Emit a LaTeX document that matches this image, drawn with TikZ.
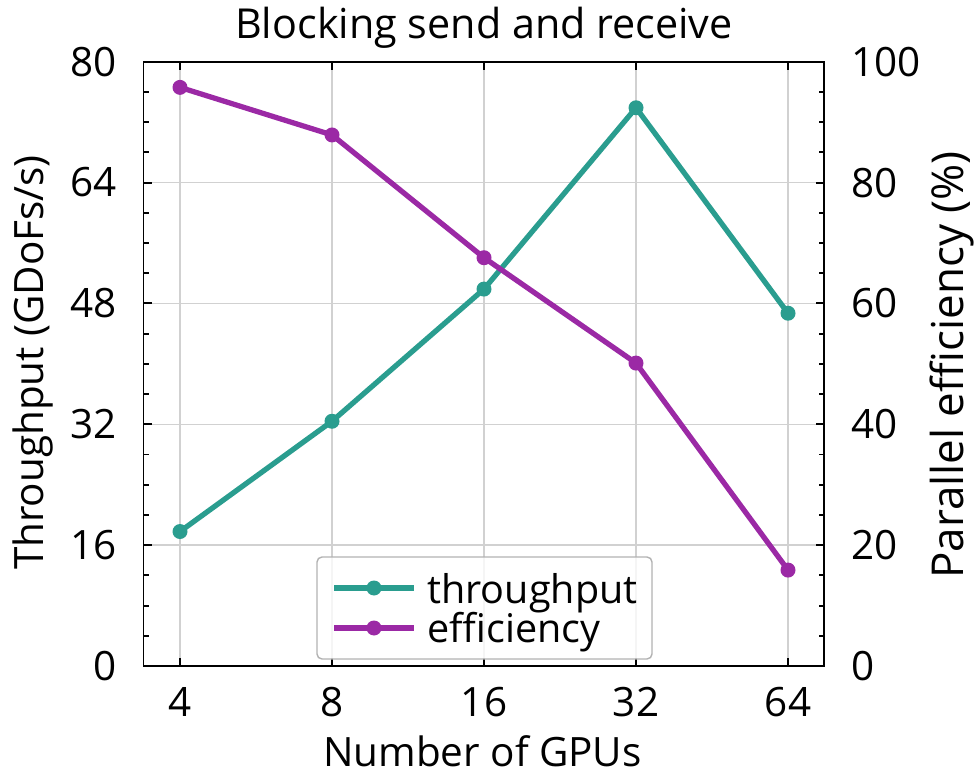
\documentclass[tikz,border=0pt]{standalone}
\usepackage{fontspec}
\setmainfont{Open Sans}
\usetikzlibrary{positioning, calc}

\definecolor{tputcol}{RGB}{42,157,143}
\definecolor{effcol}{RGB}{155,41,165}

\begin{document}
\begin{tikzpicture}[
    ticklabel/.style={font=\fontsize{23}{27}\selectfont},
    axislabel/.style={font=\fontsize{23}{27}\selectfont, inner sep=0pt},
    titlelabel/.style={font=\fontsize{23.5}{27}\selectfont, inner sep=0pt},
    legendtext/.style={font=\fontsize{22.5}{27}\selectfont, anchor=base west, inner sep=0pt},
    legendbox/.style={draw=black!30, line width=0.8pt, rounded corners=0.1cm,
                      fill=white, fill opacity=0.8},
    gridline/.style={draw=black!18, line width=0.8pt},
    frame/.style={draw=black, line width=1.1pt},
    series/.style={draw=#1, line width=3pt, line join=round},
    dot/.style={fill=#1}
]

    \useasboundingbox (0,0) rectangle (19.54,15.52);

    % Title
    \node[titlelabel, anchor=base] (title) at (9.68,14.74) {Blocking send and receive};

    % Axis labels
    \node[axislabel, anchor=base] (xlab) at (9.65,0.2) {Number of GPUs};
    \node[axislabel, rotate=90] (ylabl) at (0.66,8.27) {Throughput (GDoFs/s)};
    \node[axislabel, rotate=90, font=\fontsize{25}{29}\selectfont] (ylabr) at (19.03,8.22) {Parallel efficiency (\%)};

    \begin{scope}[shift={(3.6,2.2)}, x=3.04cm, y=0.15108cm]

        % Grid
        \foreach \k in {0,...,4}
            \draw[gridline] (\k,0) -- (\k,80);
        \foreach \v in {16,32,48,64}
            \draw[gridline] (-0.24,\v) -- (4.237,\v);

        % Throughput
        \coordinate (t1) at (0,17.8);
        \coordinate (t2) at (1,32.4);
        \coordinate (t3) at (2,49.9);
        \coordinate (t4) at (3,73.9);
        \coordinate (t5) at (4,46.7);
        \draw[series=tputcol] (t1) -- (t2) -- (t3) -- (t4) -- (t5);
        \foreach \p in {t1,t2,t3,t4,t5}
            \fill[dot=tputcol] (\p) circle (0.15cm);

        % Efficiency (right axis, 100% = 80)
        \coordinate (e1) at (0,76.6);
        \coordinate (e2) at (1,70.3);
        \coordinate (e3) at (2,54.05);
        \coordinate (e4) at (3,40.1);
        \coordinate (e5) at (4,12.7);
        \draw[series=effcol] (e1) -- (e2) -- (e3) -- (e4) -- (e5);
        \foreach \p in {e1,e2,e3,e4,e5}
            \fill[dot=effcol] (\p) circle (0.15cm);

        % Frame
        \draw[frame] (-0.24,0) rectangle (4.237,80);

        % Minor ticks
        \foreach \v in {4,8,...,76} {
            \draw[frame] (-0.24,\v) -- ++(0.1cm,0);
            \draw[frame] (4.237,\v) -- ++(-0.1cm,0);
        }

        % Major ticks and labels, y
        \foreach \v/\r in {0/0,16/20,32/40,48/60,64/80,80/100} {
            \draw[frame] (-0.24,\v) -- ++(0.17cm,0);
            \draw[frame] (4.237,\v) -- ++(-0.17cm,0);
            \node[ticklabel, anchor=east] (yl\v) at ([xshift=-0.42cm]-0.24,\v) {\v};
            \node[ticklabel, anchor=west] (yr\r) at ([xshift=0.42cm]4.237,\v) {\r};
        }

        % Major ticks and labels, x
        \foreach \k/\n in {0/4,1/8,2/16,3/32,4/64} {
            \draw[frame] (\k,0) -- ++(0,0.17cm);
            \draw[frame] (\k,80) -- ++(0,-0.17cm);
            \node[ticklabel, anchor=base] (xl\n) at ([yshift=-1cm]\k,0) {\n};
        }

    \end{scope}

    % Legend
    \draw[legendbox] (6.34,2.34) rectangle (13.04,4.38);
    \coordinate (lt1) at (6.68,3.76);
    \coordinate (lt2) at (8.28,3.76);
    \coordinate (le1) at (6.68,2.96);
    \coordinate (le2) at (8.28,2.96);
    \draw[series=tputcol] (lt1) -- (lt2);
    \fill[dot=tputcol] ($(lt1)!0.5!(lt2)$) circle (0.15cm);
    \draw[series=effcol] (le1) -- (le2);
    \fill[dot=effcol] ($(le1)!0.5!(le2)$) circle (0.15cm);
    \node[legendtext] (ltxt1) at (8.54,3.46) {throughput};
    \node[legendtext] (ltxt2) at (8.54,2.68) {efficiency};

\end{tikzpicture}
\end{document}
